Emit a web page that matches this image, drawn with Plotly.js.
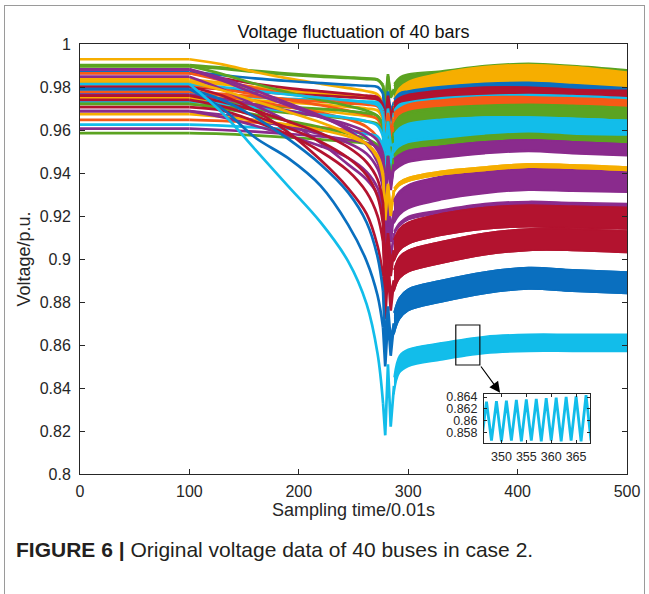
<!DOCTYPE html>
<html><head><meta charset="utf-8">
<script src="https://cdn.plot.ly/plotly-3.0.1.min.js"></script>
<style>
html,body{margin:0;padding:0;background:#fff;overflow:hidden;}
#chart{width:649px;height:594px;}
#frame{position:absolute;left:4px;top:5px;width:641px;height:620px;border:1px solid #9a9a9a;box-sizing:border-box;pointer-events:none;}
</style>
</head><body>
<div id="chart"></div><div id="frame"></div>
<script>
// ---- data ----
const X_PRE  = [0, 100, 130, 160, 190, 220, 245, 262, 272, 277, 279, 281.5, 284];
const X_POST = [287, 292, 300, 330, 370, 410, 450, 500];

const busColor = ['G','G','Y','Y','Y','Y','Y','B','R','R','C','O','O','O','O','G','G','G','O','C','C','C','G','G','P','P','P','P','P','P','Y','Y','P','R','R','R','R','B','B','C'];

const busPre = [
 [.9902,.9902,.9890,.9875,.9862,.9852,.9845,.9840,.9835,.9810,.9720,.9860,.9760],
 [.9896,.9896,.9885,.9870,.9858,.9848,.9842,.9837,.9832,.9805,.9700,.9850,.9750],
 [.9929,.9929,.9905,.9870,.9840,.9815,.9795,.9780,.9765,.9720,.9600,.9760,.9640],
 [.9836,.9836,.9820,.9800,.9785,.9772,.9762,.9755,.9748,.9710,.9560,.9720,.9600],
 [.9825,.9825,.9812,.9795,.9780,.9768,.9758,.9750,.9740,.9700,.9540,.9700,.9580],
 [.9744,.9744,.9735,.9720,.9705,.9690,.9675,.9665,.9650,.9600,.9450,.9620,.9500],
 [.9755,.9755,.9748,.9738,.9728,.9718,.9708,.9700,.9690,.9650,.9500,.9660,.9540],
 [.9870,.9870,.9855,.9840,.9828,.9818,.9810,.9805,.9800,.9770,.9640,.9780,.9680],
 [.9864,.9864,.9840,.9815,.9795,.9780,.9768,.9760,.9752,.9715,.9620,.9760,.9660],
 [.9801,.9801,.9790,.9778,.9768,.9760,.9753,.9748,.9742,.9705,.9600,.9740,.9640],
 [.9770,.9770,.9762,.9752,.9745,.9740,.9735,.9732,.9728,.9690,.9560,.9700,.9580],
 [.9864,.9864,.9830,.9795,.9768,.9748,.9733,.9722,.9712,.9670,.9550,.9680,.9580],
 [.9778,.9778,.9768,.9755,.9742,.9732,.9724,.9718,.9710,.9665,.9520,.9670,.9560],
 [.9810,.9810,.9790,.9765,.9740,.9715,.9690,.9670,.9650,.9600,.9450,.9600,.9500],
 [.9647,.9647,.9642,.9635,.9625,.9612,.9598,.9585,.9565,.9510,.9380,.9560,.9430],
 [.9898,.9898,.9860,.9815,.9775,.9740,.9712,.9690,.9665,.9620,.9480,.9640,.9520],
 [.9732,.9732,.9726,.9718,.9708,.9698,.9688,.9678,.9665,.9620,.9480,.9640,.9520],
 [.9721,.9721,.9710,.9695,.9680,.9665,.9652,.9640,.9628,.9580,.9430,.9600,.9480],
 [.9778,.9778,.9760,.9735,.9708,.9680,.9650,.9615,.9565,.9500,.9340,.9500,.9380],
 [.9814,.9814,.9800,.9782,.9765,.9750,.9738,.9728,.9715,.9665,.9500,.9640,.9530],
 [.9734,.9734,.9722,.9705,.9688,.9672,.9656,.9640,.9620,.9570,.9400,.9560,.9450],
 [.9625,.9625,.9620,.9612,.9605,.9598,.9590,.9582,.9570,.9520,.9360,.9520,.9400],
 [.9721,.9721,.9700,.9672,.9643,.9613,.9583,.9558,.9530,.9480,.9320,.9480,.9360],
 [.9585,.9585,.9582,.9575,.9566,.9556,.9546,.9538,.9528,.9480,.9320,.9480,.9360],
 [.9882,.9882,.9830,.9770,.9715,.9660,.9610,.9565,.9505,.9440,.9280,.9440,.9320],
 [.9765,.9765,.9745,.9718,.9690,.9660,.9625,.9590,.9550,.9490,.9320,.9480,.9360],
 [.9606,.9606,.9600,.9592,.9582,.9570,.9555,.9540,.9520,.9470,.9300,.9460,.9340],
 [.9848,.9848,.9790,.9715,.9640,.9540,.9440,.9370,.9300,.9210,.9050,.9230,.9080],
 [.9882,.9882,.9840,.9785,.9725,.9665,.9600,.9530,.9450,.9350,.9100,.9280,.9130],
 [.9688,.9688,.9670,.9645,.9615,.9580,.9540,.9490,.9420,.9330,.9100,.9260,.9120],
 [.9825,.9825,.9785,.9735,.9685,.9635,.9585,.9535,.9470,.9380,.9180,.9340,.9200],
 [.9674,.9674,.9662,.9645,.9625,.9600,.9570,.9535,.9480,.9400,.9200,.9350,.9220],
 [.9688,.9688,.9660,.9620,.9575,.9525,.9470,.9405,.9330,.9230,.8980,.9150,.9000],
 [.9706,.9706,.9690,.9640,.9580,.9500,.9410,.9310,.9200,.9080,.8900,.9080,.8920],
 [.9760,.9760,.9730,.9690,.9640,.9585,.9520,.9450,.9370,.9260,.8950,.9120,.8980],
 [.9801,.9801,.9760,.9690,.9590,.9460,.9330,.9210,.9060,.8920,.8720,.8950,.8760],
 [.9740,.9740,.9710,.9665,.9610,.9545,.9470,.9390,.9290,.9160,.8800,.9000,.8830],
 [.9790,.9790,.9700,.9565,.9470,.9340,.9160,.8990,.8830,.8680,.8500,.8720,.8550],
 [.9790,.9790,.9740,.9660,.9560,.9440,.9310,.9170,.9010,.8850,.8600,.8780,.8620],
 [.9814,.9814,.9680,.9510,.9340,.9170,.8990,.8790,.8560,.8330,.8180,.8510,.8220]
];

// centre of each oscillation band after the fault (at X_POST)
const busPost = [
 [.979,.982,.9835,.985,.9875,.9885,.9875,.9855],
 [.978,.981,.9825,.9845,.987,.988,.987,.985],
 [.970,.975,.978,.982,.985,.986,.985,.9825],
 [.968,.973,.976,.980,.983,.9845,.9835,.981],
 [.967,.972,.9755,.9795,.9825,.984,.983,.9805],
 [.966,.971,.975,.979,.982,.9835,.9825,.980],
 [.969,.974,.977,.981,.984,.985,.984,.9815],
 [.973,.976,.977,.979,.9805,.981,.980,.9785],
 [.971,.973,.9745,.9765,.978,.978,.977,.9765],
 [.970,.9725,.974,.976,.9775,.9775,.9765,.976],
 [.968,.971,.972,.974,.975,.9755,.975,.974],
 [.966,.968,.970,.972,.9735,.9735,.973,.972],
 [.9655,.9675,.9695,.9715,.973,.973,.9725,.9715],
 [.965,.967,.969,.971,.9725,.9725,.972,.971],
 [.965,.967,.9695,.9715,.973,.973,.9725,.9715],
 [.959,.963,.965,.967,.968,.9685,.968,.967],
 [.9585,.9625,.9645,.9665,.9675,.968,.9675,.9665],
 [.958,.962,.964,.966,.967,.9675,.967,.966],
 [.953,.956,.958,.960,.9615,.9615,.961,.960],
 [.953,.956,.958,.960,.9615,.9615,.961,.960],
 [.9525,.9555,.9575,.9595,.961,.961,.9605,.9595],
 [.954,.957,.959,.961,.962,.962,.9615,.9605],
 [.947,.950,.952,.954,.956,.957,.956,.9555],
 [.9465,.9495,.9515,.9535,.9555,.9565,.9555,.955],
 [.944,.946,.948,.950,.952,.953,.952,.951],
 [.9435,.9455,.9475,.9495,.9515,.9525,.9515,.9505],
 [.944,.946,.948,.950,.952,.953,.952,.951],
 [.922,.926,.929,.933,.936,.9375,.937,.9365],
 [.9225,.9265,.9295,.9335,.9365,.938,.9375,.937],
 [.9215,.9255,.9285,.9325,.9355,.937,.9365,.936],
 [.932,.935,.937,.940,.942,.9435,.943,.942],
 [.932,.935,.937,.940,.942,.9435,.943,.942],
 [.912,.916,.919,.922,.925,.926,.9255,.925],
 [.904,.909,.912,.916,.919,.920,.9195,.919],
 [.904,.909,.912,.916,.919,.920,.9195,.919],
 [.890,.896,.899,.903,.907,.909,.909,.908],
 [.890,.896,.899,.903,.907,.909,.909,.908],
 [.870,.877,.881,.885,.889,.891,.890,.889],
 [.870,.877,.881,.885,.889,.891,.890,.889],
 [.841,.851,.854,.857,.860,.861,.861,.861]
];
// half amplitude of the oscillation band of each bus
const busHW = [.0025,.0025,.0045,.004,.004,.004,.004,.0012,.002,.002,.001,.002,.002,.002,.002,.0035,.0035,.0035,.003,.0045,.0045,.004,.0015,.0015,.0025,.0025,.0025,.005,.005,.005,.0008,.0008,.0008,.005,.005,.005,.005,.005,.005,.004];

// zoomed detail (inset)
const insetX = [346,347,348,349,350,351,352,353,354,355,356,357,358,359,360,361,362,363,364,365,366,367,368];
const insetY = [.8566,.8632,.8567,.8633,.8566,.8634,.8567,.8635,.8566,.8636,.8567,.8637,.8566,.8638,.8567,.8639,.8566,.8640,.8567,.8641,.8566,.8643,.8567];

const yTicks = [0.8,0.82,0.84,0.86,0.88,0.9,0.92,0.94,0.96,0.98,1];
const yTickText = ['0.8','0.82','0.84','0.86','0.88','0.9','0.92','0.94','0.96','0.98','1'];
const xTicks = [0,100,200,300,400,500];
const insetXTicks = [350,355,360,365];
const insetYTicks = [0.858,0.86,0.862,0.864];
const insetYText = ['0.858','0.86','0.862','0.864'];

// ---- styles ----
const PALETTE = {B:'#0a6fbf', O:'#f65a16', Y:'#f6ae00', P:'#8a2b8d', G:'#5ba321', C:'#12bdea', R:'#b3132f'};
const AX = '#262626';
const FONT = 'Arial, "Liberation Sans", Helvetica, sans-serif';
const LW = 2.7;

const traces = [];
const iCurveEnd = X_PRE.indexOf(277);
for (let i = 0; i < busPre.length; i++) {
  const col = PALETTE[busColor[i]];
  const v = busPre[i];
  traces.push({x: X_PRE.slice(0,2), y: v.slice(0,2), mode:'lines',
    line:{color:col, width:LW}, hoverinfo:'skip', showlegend:false});
  traces.push({x: X_PRE.slice(1,iCurveEnd+1), y: v.slice(1,iCurveEnd+1), mode:'lines',
    line:{color:col, width:LW, shape:'spline', smoothing:1}, hoverinfo:'skip', showlegend:false});
  traces.push({x: X_PRE.slice(iCurveEnd).concat([X_POST[0]]), y: v.slice(iCurveEnd).concat([busPost[i][0]]),
    mode:'lines', line:{color:col, width:LW}, hoverinfo:'skip', showlegend:false});
}
for (let i = 0; i < busPre.length; i++) {
  const col = PALETTE[busColor[i]];
  const lo = busPost[i].map(v => v - busHW[i]);
  const hi = busPost[i].map(v => v + busHW[i]);
  traces.push({x: X_POST, y: lo, mode:'lines', line:{color:col, width:1.5, shape:'spline'}, hoverinfo:'skip', showlegend:false});
  traces.push({x: X_POST, y: hi, mode:'lines', fill:'tonexty', fillcolor:col, line:{color:col, width:1.5, shape:'spline'}, hoverinfo:'skip', showlegend:false});
}
traces.push({x: insetX, y: insetY, xaxis:'x2', yaxis:'y2', mode:'lines',
  line:{color:PALETTE.C, width:2.8}, hoverinfo:'skip', showlegend:false});

const axCommon = {showgrid:false, zeroline:false, showline:true, linecolor:AX, linewidth:1,
  ticks:'inside', ticklen:5, tickcolor:AX, mirror:'ticks', tickfont:{family:FONT, size:16, color:AX}};

const layout = {
  width:649, height:594,
  margin:{l:80, r:22, t:44, b:120},
  paper_bgcolor:'#fff', plot_bgcolor:'#fff',
  showlegend:false,
  title:{text:'Voltage fluctuation of 40 bars', font:{family:FONT, size:18, color:'#111'},
    xref:'paper', x:0.5, xanchor:'center', yref:'paper', y:1, yanchor:'bottom', pad:{b:6}},
  xaxis: Object.assign({}, axCommon, {range:[0,500], tickvals:xTicks, ticklabelstandoff:3,
    title:{text:'Sampling time/0.01s', font:{family:FONT, size:18, color:AX}, standoff:4}}),
  yaxis: Object.assign({}, axCommon, {range:[0.8,1], tickvals:yTicks, ticktext:yTickText, ticklabelstandoff:5,
    title:{text:'Voltage/p.u.', font:{family:FONT, size:18, color:AX}, standoff:4}}),
  xaxis2: Object.assign({}, axCommon, {domain:[0.7386,0.9324], anchor:'y2', range:[346.5,367.8],
    tickvals:insetXTicks, ticklen:3, tickfont:{family:FONT, size:12.5, color:AX}, ticklabelstandoff:2}),
  yaxis2: Object.assign({}, axCommon, {domain:[0.072,0.186], anchor:'x2', range:[0.8563,0.8645],
    tickvals:insetYTicks, ticktext:insetYText, ticklen:3, tickfont:{family:FONT, size:12.5, color:AX}, ticklabelstandoff:3}),
  shapes:[{type:'rect', xref:'x', yref:'y', x0:343.5, x1:365.5, y0:0.8507, y1:0.8693, line:{color:'#111', width:1.2}}],
  annotations:[
    {xref:'x', yref:'y', axref:'x', ayref:'y', x:384, y:0.8378, ax:365.5, ay:0.8507, text:'',
     showarrow:true, arrowhead:2, arrowsize:1.8, arrowwidth:1.2, arrowcolor:'#000', standoff:0},
    {xref:'paper', yref:'paper', x:-0.121, xanchor:'left', y:-0.1767, yanchor:'middle', showarrow:false,
     text:'<b>FIGURE 6 |</b> Original voltage data of 40 buses in case 2.', font:{family:FONT, size:21, color:'#231f20'}}
  ]
};
Plotly.newPlot('chart', traces, layout, {displayModeBar:false, staticPlot:true});
</script>
</body></html>
